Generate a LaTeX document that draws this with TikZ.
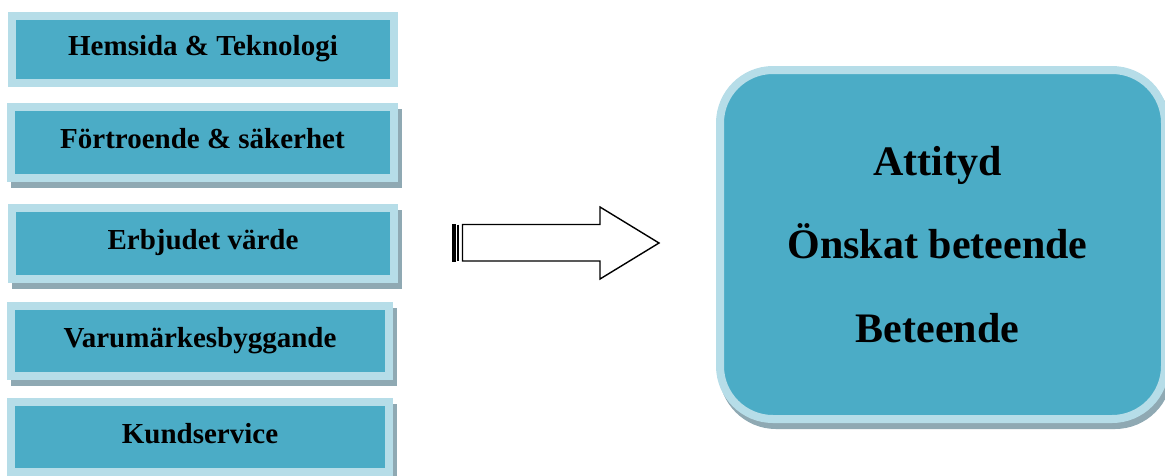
\documentclass[tikz,border=0pt]{standalone}
\usepackage{fontspec}
\setmainfont{Liberation Serif}
\definecolor{boxdark}{HTML}{4BACC6}
\definecolor{boxlight}{HTML}{B6DDE8}
\definecolor{shadowc}{HTML}{8FA9B3}
\newcommand{\myleftshift}[1]{\hbox{#1\kern10pt}}
\tikzset{
  smallbox/.style={draw=boxlight, fill=boxdark, line width=8pt, rectangle,
    inner sep=0pt, text height=19pt, text depth=7pt,
    font=\fontsize{29}{34}\selectfont\bfseries},
  withshadow/.style={preaction={draw=shadowc, fill=shadowc, line width=8pt,
    transform canvas={shift={(4pt,-6pt)}}}},
  bigbox/.style={draw=boxlight, fill=boxdark, line width=8pt, rectangle,
    rounded corners=53pt, inner sep=0pt, align=center,
    font=\fontsize{42}{83.5}\selectfont\bfseries,
    preaction={draw=shadowc, fill=shadowc, line width=8pt,
      transform canvas={shift={(3pt,-6pt)}}}},
  arrowline/.style={draw=black, line width=1.4pt, line join=miter}
}
\begin{document}
\begin{tikzpicture}[x=1pt,y=-1pt]
\useasboundingbox (0,0) rectangle (1165,475);
\node[smallbox, minimum width=382pt, minimum height=67pt] (b1) at (203,49.5) {Hemsida \& Teknologi};
\node[smallbox, withshadow, minimum width=383pt, minimum height=71pt] (b2) at (202.5,142.5) {Förtroende \& säkerhet};
\node[smallbox, withshadow, minimum width=382pt, minimum height=71pt] (b3) at (203,243.5) {Erbjudet värde};
\node[smallbox, withshadow, minimum width=378pt, minimum height=70pt] (b4) at (200,341) {Varumärkesbyggande};
\node[smallbox, withshadow, minimum width=378pt, minimum height=70pt] (b5) at (200,437) {Kundservice};
\node[bigbox, minimum width=445pt, minimum height=349pt] (big) at (942.5,244.5) {\myleftshift{Attityd}\\\myleftshift{Önskat beteende}\\\myleftshift{Beteende}};
% striped block arrow
\draw[arrowline, fill=black] (452.8,224.5) rectangle (455.5,261);
\draw[arrowline] (458,224.5) -- (458,261);
\draw[arrowline] (462.5,224.5) -- (600,224.5) -- (600,207) -- (659,243) -- (600,279) -- (600,261) -- (462.5,261) -- cycle;
\end{tikzpicture}
\end{document}
